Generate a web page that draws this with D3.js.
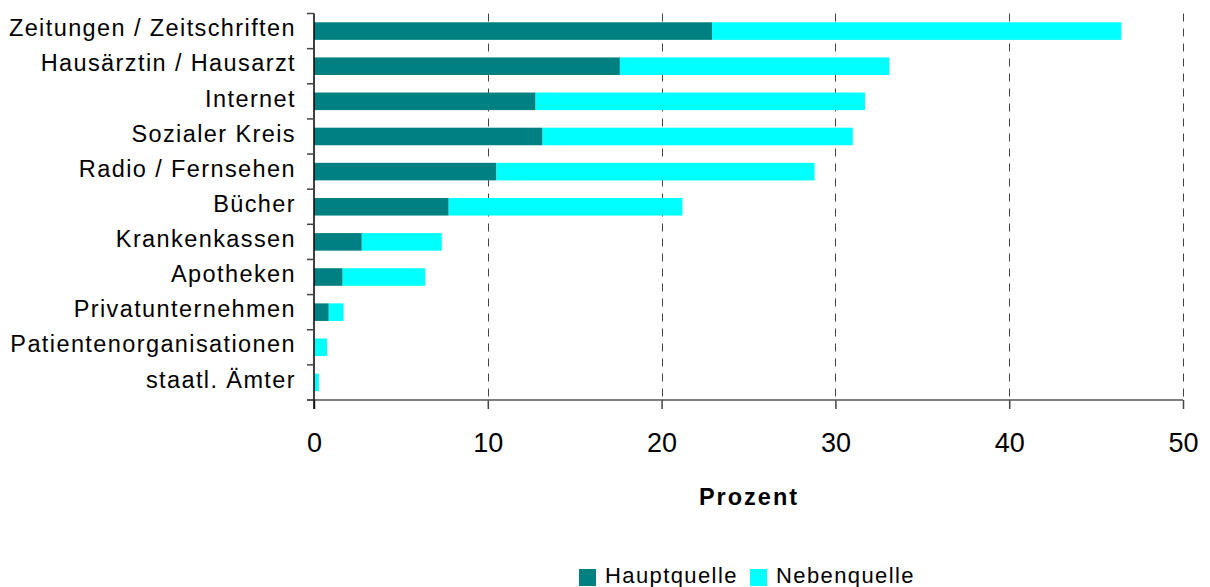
<!DOCTYPE html>
<html>
<head>
<meta charset="utf-8">
<script src="https://cdn.jsdelivr.net/npm/d3@7"></script>
<style>
  body { margin: 0; background: #fff; }
  text { font-family: "Liberation Sans", Arial, sans-serif; fill: #000; }
</style>
</head>
<body>
<div id="chart"></div>
<script>
// data
var categories = ["Zeitungen / Zeitschriften", "Hausärztin / Hausarzt", "Internet", "Sozialer Kreis",
  "Radio / Fernsehen", "Bücher", "Krankenkassen", "Apotheken", "Privatunternehmen",
  "Patientenorganisationen", "staatl. Ämter"];
var hauptquelle = [22.9, 17.6, 12.75, 13.15, 10.5, 7.75, 2.75, 1.65, 0.85, 0, 0];
var nebenquelle = [23.55, 15.5, 18.95, 17.85, 18.3, 13.45, 4.6, 4.75, 0.85, 0.75, 0.28];
var seriesNames = ["Hauptquelle", "Nebenquelle"];
var xTicks = [0, 10, 20, 30, 40, 50];

var colors = ["#008080", "#00ffff"];

var width = 1210, height = 587;
var margin = {top: 13.5, right: 27, bottom: 187, left: 314};
var chartWidth = width - margin.left - margin.right;
var chartHeight = height - margin.top - margin.bottom;

var svg = d3.select("#chart").append("svg")
    .attr("width", width)
    .attr("height", height);

var chartGroup = svg.append("g")
    .attr("transform", `translate(${margin.left}, ${margin.top})`);

var rows = categories.map(function(c, i) {
  return {cat: c, Hauptquelle: hauptquelle[i], Nebenquelle: nebenquelle[i]};
});
var stacked = d3.stack().keys(seriesNames)(rows);

var x = d3.scaleLinear().domain([0, 50]).range([0, chartWidth]);
var y = d3.scaleBand().domain(categories).range([0, chartHeight]).paddingInner(0.5).paddingOuter(0.25);
var yBand = d3.scaleBand().domain(categories).range([0, chartHeight]);

// dashed gridlines
chartGroup.selectAll(".grid")
    .data(xTicks.slice(1))
    .enter()
    .append("line")
    .attr("x1", d => Math.round(x(d)) + 0.5)
    .attr("x2", d => Math.round(x(d)) + 0.5)
    .attr("y1", 0)
    .attr("y2", chartHeight)
    .attr("stroke", "#444")
    .attr("stroke-width", 1)
    .attr("stroke-dasharray", "8,7");

// bars
chartGroup.selectAll(".series")
    .data(stacked)
    .enter()
    .append("g")
    .attr("fill", (d, i) => colors[i])
    .selectAll("rect")
    .data(d => d)
    .enter()
    .append("rect")
    .attr("x", d => x(d[0]))
    .attr("y", d => y(d.data.cat))
    .attr("width", d => x(d[1]) - x(d[0]))
    .attr("height", y.bandwidth());

// x axis
var bottomAxis = d3.axisBottom(x).tickValues(xTicks).tickSize(9).tickPadding(24).tickFormat(d3.format("d"));
var xAxis = chartGroup.append("g")
    .attr("transform", `translate(0, ${chartHeight})`)
    .call(bottomAxis);
xAxis.select(".domain").remove();
xAxis.append("line")
    .attr("x1", -7).attr("x2", chartWidth)
    .attr("stroke", "#555").attr("stroke-width", 1.5);
xAxis.selectAll(".tick line").attr("stroke", "#444").attr("stroke-width", 1.5);
xAxis.selectAll(".tick text")
    .style("font-size", "27px")
    .style("font-family", "'Liberation Sans', Arial, sans-serif")
    .attr("fill", "#000");

// y axis
var leftAxis = d3.axisLeft(yBand).tickSize(0).tickPadding(18);
var yAxis = chartGroup.append("g").call(leftAxis);
yAxis.select(".domain").remove();
yAxis.append("line")
    .attr("x1", 0).attr("x2", 0)
    .attr("y1", 0).attr("y2", chartHeight + 9)
    .attr("stroke", "#000").attr("stroke-width", 1.5);
yAxis.selectAll(".bound")
    .data(d3.range(categories.length + 1))
    .enter()
    .append("line")
    .attr("x1", -7).attr("x2", 0)
    .attr("y1", d => d * yBand.step())
    .attr("y2", d => d * yBand.step())
    .attr("stroke", "#444").attr("stroke-width", 1.5);
yAxis.selectAll(".tick text")
    .style("font-size", "23.5px")
    .style("letter-spacing", "1.4px")
    .style("font-family", "'Liberation Sans', Arial, sans-serif")
    .attr("fill", "#000")
    .attr("dy", "0.22em");

// axis title
svg.append("text")
    .attr("x", 749)
    .attr("y", 505)
    .attr("text-anchor", "middle")
    .style("font-size", "23.5px")
    .style("font-weight", "bold")
    .style("letter-spacing", "2px")
    .text("Prozent");

// legend
var legendX = [579, 750];
var legend = svg.selectAll(".legend")
    .data(seriesNames)
    .enter()
    .append("g")
    .attr("transform", (d, i) => `translate(${legendX[i]}, 569)`);
legend.append("rect")
    .attr("width", 17).attr("height", 17)
    .attr("fill", (d, i) => colors[i]);
legend.append("text")
    .attr("x", 26)
    .attr("y", 14)
    .style("font-size", "22px")
    .style("letter-spacing", "1.4px")
    .text(d => d);
</script>
</body>
</html>
